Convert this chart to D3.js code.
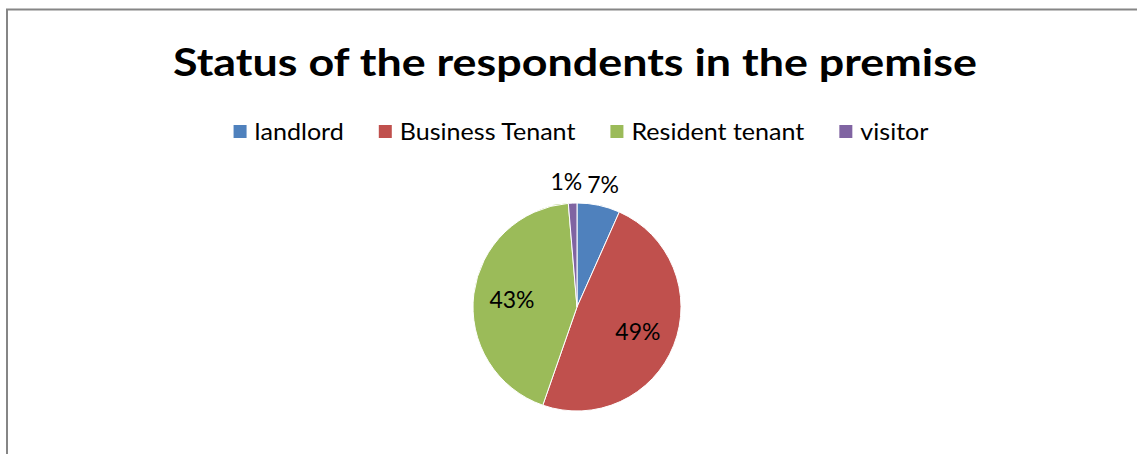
<!DOCTYPE html>
<html>
<head>
<meta charset="utf-8">
<script src="https://cdn.jsdelivr.net/npm/d3@7"></script>
<style>
  html, body { margin: 0; padding: 0; background: #fff; overflow: hidden; }
  svg { display: block; overflow: hidden; }
</style>
</head>
<body>
<svg id="chart" width="1137" height="454"></svg>
<script>
// Respondent counts by status in the premise
const categories = ["landlord", "Business Tenant", "Resident tenant", "visitor"];
const counts = [10, 73, 65, 2];
const colors = ["#4F81BD", "#C0504D", "#9BBB59", "#8064A2"];
const titleText = "Status of the respondents in the premise";

const W = 1137, H = 454;
const font = "Lato, 'Open Sans', sans-serif";
const svg = d3.select("#chart");

// widen glyphs slightly to approximate a Calibri-like set width
function stretch(sel, factor) {
  sel.each(function() {
    const w = this.getComputedTextLength();
    d3.select(this).attr("textLength", w * factor).attr("lengthAdjust", "spacingAndGlyphs");
  });
}

// chart frame (top and left edges; the rest runs past the page)
svg.append("path")
  .attr("d", `M7,${H + 5}V9.5H${W + 5}`)
  .attr("fill", "none")
  .attr("stroke", "#868686")
  .attr("stroke-width", 2);

// title
const title = svg.append("text")
  .attr("x", 575).attr("y", 76)
  .attr("text-anchor", "middle")
  .attr("font-family", font)
  .attr("font-weight", "bold")
  .attr("font-size", 38)
  .attr("fill", "#000")
  .text(titleText);
stretch(title, 1.18);

// legend
const legend = svg.append("g");
let lx = 0;
categories.forEach((c, i) => {
  const g = legend.append("g").attr("transform", `translate(${lx},0)`);
  g.append("rect").attr("x", 0).attr("y", -15).attr("width", 13).attr("height", 13)
    .attr("fill", colors[i]);
  const t = g.append("text").attr("x", 21).attr("y", 0)
    .attr("font-family", font).attr("font-size", 23).attr("fill", "#000").text(c);
  stretch(t, 1.09);
  lx += 21 + +t.attr("textLength") + 35;
});
lx -= 35;
legend.attr("transform", `translate(${581 - lx / 2},140)`);

// pie
const cx = 577, cy = 307, R = 104;
const total = d3.sum(counts);
const pie = d3.pie().sort(null).value(d => d)(counts);
const arc = d3.arc().innerRadius(0).outerRadius(R);
const g = svg.append("g").attr("transform", `translate(${cx},${cy})`);
g.selectAll("path").data(pie).join("path")
  .attr("d", arc)
  .attr("fill", (d, i) => colors[i])
  .attr("stroke", "#fff")
  .attr("stroke-width", 1);

// percentage labels: inside for large slices, outside for small ones
const labels = pie.map((d, i) => {
  const pct = d.value / total;
  const mid = (d.startAngle + d.endAngle) / 2;
  const inside = pct > 0.1;
  const r = inside ? R * 0.63 : R * 1.21;
  return {
    text: Math.round(pct * 100) + "%",
    x: Math.sin(mid) * r,
    y: -Math.cos(mid) * r,
    inside
  };
});
const lt = g.selectAll("text.lbl").data(labels).join("text")
  .attr("class", "lbl")
  .attr("text-anchor", "middle")
  .attr("dominant-baseline", "central")
  .attr("font-family", font)
  .attr("font-size", 23)
  .attr("fill", "#000")
  .text(d => d.text);
lt.each(function(d) { d.w = this.getComputedTextLength(); });
// push overlapping outside labels apart horizontally
const outs = labels.filter(d => !d.inside).sort((a, b) => a.x - b.x);
for (let k = outs.length - 2; k >= 0; k--) {
  const a = outs[k], b = outs[k + 1];
  const minGap = (a.w + b.w) / 2 + 5;
  if (Math.abs(a.y - b.y) < 20 && b.x - a.x < minGap) a.x = b.x - minGap;
}
lt.attr("x", d => d.x).attr("y", d => d.y);
</script>
</body>
</html>
